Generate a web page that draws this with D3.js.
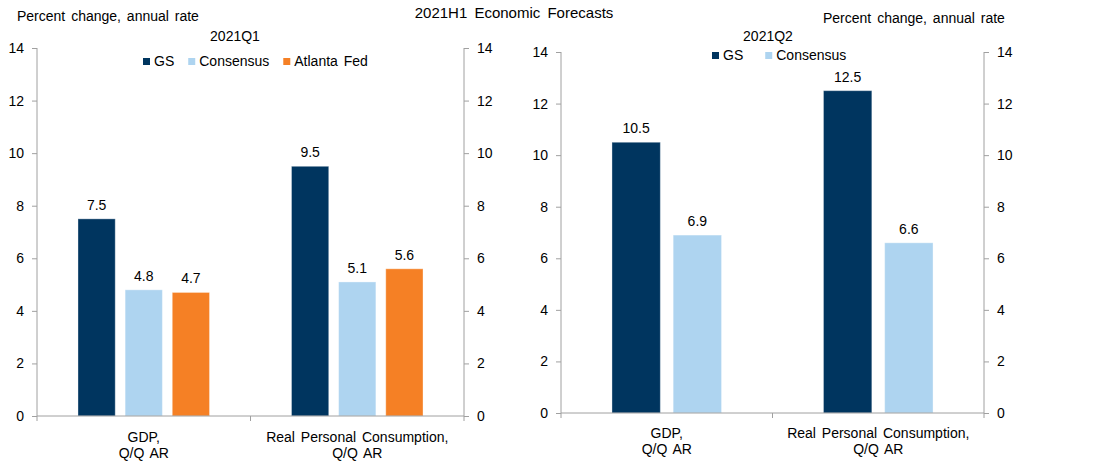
<!DOCTYPE html>
<html>
<head>
<meta charset="utf-8">
<script src="https://cdn.jsdelivr.net/npm/d3@7/dist/d3.min.js"></script>
<style>
  html, body { margin: 0; padding: 0; background: #fff; }
  svg { display: block; font-family: "Liberation Sans", Arial, sans-serif; word-spacing: 2px; }
</style>
</head>
<body>
<svg id="chart" width="1096" height="468"></svg>
<script>
// ---- Data ----
const categories = [["GDP,", "Q/Q AR"], ["Real Personal Consumption,", "Q/Q AR"]];
const q1Series = ["GS", "Consensus", "Atlanta Fed"];
const q1GS = [7.5, 9.5];
const q1Consensus = [4.8, 5.1];
const q1AtlantaFed = [4.7, 5.6];
const q2Series = ["GS", "Consensus"];
const q2GS = [10.5, 12.5];
const q2Consensus = [6.9, 6.6];
const yTicks = [0, 2, 4, 6, 8, 10, 12, 14];
const mainTitle = "2021H1 Economic Forecasts";
const unitLabel = "Percent change, annual rate";

const colors = { "GS": "#00355f", "Consensus": "#aed4f0", "Atlanta Fed": "#f58025" };
const axisColor = "#a0a0a0";

const svg = d3.select("#chart");

svg.append("text").attr("x", 514).attr("y", 18).attr("text-anchor", "middle")
  .attr("font-size", 15).style("word-spacing", "3px").text(mainTitle);

function panel(opts) {
  const { x0, x1, y0, y14, series, values, title, titleX, legendX, legendY, unitX, unitY, padFrac, catY } = opts;
  const g = svg.append("g");
  const xOuter = d3.scaleBand().domain(d3.range(categories.length)).range([x0, x1]).paddingInner(0).paddingOuter(0);
  const bw = xOuter.bandwidth();
  const xInner = d3.scaleBand().domain(series).range([bw * padFrac, bw * (1 - padFrac)]).paddingInner(0.21).paddingOuter(0);
  const y = d3.scaleLinear().domain([0, 14]).range([y0, y14]);

  // unit label
  g.append("text").attr("x", unitX).attr("y", unitY).attr("font-size", 14).text(unitLabel);
  // panel title
  g.append("text").attr("x", titleX).attr("y", 41).attr("text-anchor", "middle").attr("font-size", 14).text(title);

  // axes
  const leftAxis = d3.axisLeft(y).tickValues(yTicks).tickSize(5).tickPadding(8).tickFormat(d3.format("d"));
  const rightAxis = d3.axisRight(y).tickValues(yTicks).tickSize(5).tickPadding(8).tickFormat(d3.format("d"));
  const la = g.append("g").attr("transform", `translate(${x0},0)`).call(leftAxis);
  const ra = g.append("g").attr("transform", `translate(${x1},0)`).call(rightAxis);
  [la, ra].forEach(a => {
    a.select(".domain").remove();
    a.selectAll(".tick line").attr("stroke", axisColor);
    a.selectAll(".tick text").attr("font-size", 14).attr("fill", "#000").attr("font-family", "Liberation Sans, Arial, sans-serif");
  });
  g.append("line").attr("x1", x0).attr("x2", x0).attr("y1", y(14)).attr("y2", y(0)).attr("stroke", axisColor);
  g.append("line").attr("x1", x1).attr("x2", x1).attr("y1", y(14)).attr("y2", y(0)).attr("stroke", axisColor);

  // bars
  series.forEach((s, si) => {
    const vals = values[si];
    g.selectAll(null).data(vals).enter().append("rect")
      .attr("x", (d, i) => xOuter(i) + xInner(s))
      .attr("width", xInner.bandwidth())
      .attr("y", d => y(d))
      .attr("height", d => y(0) - y(d))
      .attr("fill", colors[s])
      .attr("stroke", "rgba(255,255,255,0.35)")
      .attr("stroke-width", 1);
    g.selectAll(null).data(vals).enter().append("text")
      .attr("x", (d, i) => xOuter(i) + xInner(s) + xInner.bandwidth() / 2)
      .attr("y", d => y(d) - 9)
      .attr("text-anchor", "middle").attr("font-size", 14)
      .text(d => d.toFixed(1));
  });

  // x axis
  g.append("line").attr("x1", x0).attr("x2", x1).attr("y1", y(0)).attr("y2", y(0)).attr("stroke", axisColor);
  const boundaries = d3.range(categories.length + 1).map(i => x0 + i * bw);
  g.selectAll(null).data(boundaries).enter().append("line")
    .attr("x1", d => d).attr("x2", d => d).attr("y1", y(0)).attr("y2", y(0) + 5).attr("stroke", axisColor);
  categories.forEach((c, i) => {
    const cx = xOuter(i) + bw / 2;
    const t = g.append("text").attr("text-anchor", "middle").attr("font-size", 14);
    c.forEach((line, li) => {
      t.append("tspan").attr("x", cx).attr("y", catY + li * 16).text(line);
    });
  });

  // legend
  let lx = legendX;
  series.forEach((s) => {
    g.append("rect").attr("x", lx).attr("y", legendY - 8).attr("width", 7).attr("height", 7).attr("fill", colors[s]);
    const t = g.append("text").attr("x", lx + 11).attr("y", legendY).attr("font-size", 14).text(s);
    const w = t.node().getComputedTextLength();
    lx = lx + 11 + w + opts.legendGap;
  });
}

panel({
  x0: 37, x1: 464, y0: 416, y14: 48,
  series: q1Series, values: [q1GS, q1Consensus, q1AtlantaFed],
  title: "2021Q1", titleX: 235,
  legendX: 143, legendY: 66, legendGap: 14,
  unitX: 17, unitY: 21, padFrac: 0.192, catY: 442
});

panel({
  x0: 561, x1: 984, y0: 413, y14: 52,
  series: q2Series, values: [q2GS, q2Consensus],
  title: "2021Q2", titleX: 768,
  legendX: 712, legendY: 60, legendGap: 22,
  unitX: 823, unitY: 23, padFrac: 0.241, catY: 438
});
</script>
</body>
</html>
